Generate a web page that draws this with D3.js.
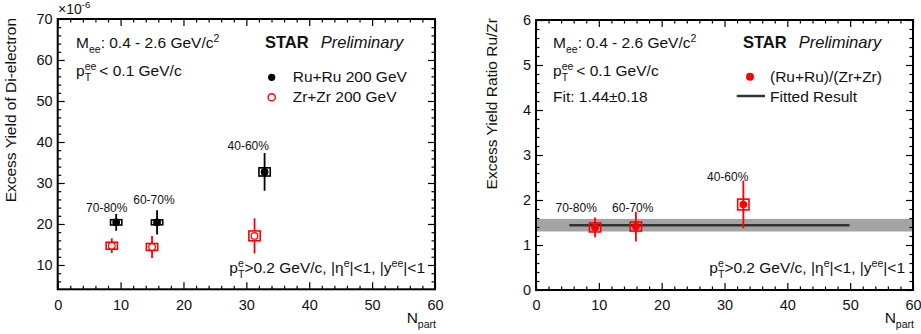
<!DOCTYPE html>
<html>
<head>
<meta charset="utf-8">
<script src="https://cdn.jsdelivr.net/npm/d3@7"></script>
<style>
body { margin: 0; background: #fff; }
text { font-family: "Liberation Sans", Arial, Helvetica, sans-serif; fill: #111; }
</style>
</head>
<body>
<script>

// ---- data ----
var centralities = ["70-80%", "60-70%", "40-60%"];

var npartRu = [9.3, 15.8, 32.9];
var yieldRu = [20.4, 20.4, 32.7];
var statRu  = [2.05, 2.95, 4.6];
var sysRu   = [0.65, 0.6, 1.0];

var npartZr = [8.6, 15.0, 31.3];
var yieldZr = [14.7, 14.4, 17.1];
var statZr  = [1.8, 2.7, 4.3];
var sysZr   = [0.85, 0.85, 1.2];

var npartRatio = [9.4, 15.9, 33.0];
var ratio      = [1.39, 1.41, 1.90];
var statRatio  = [0.22, 0.33, 0.53];
var sysRatio   = [0.10, 0.10, 0.12];

var fitValue = 1.44;
var fitBand  = [1.30, 1.58];
var fitRange = [5.3, 49.9];

// label anchors (Npart, y) for the centrality tags
var tagPosLeft  = [[7.8, 22.9], [15.3, 24.9], [30.3, 38.0]];
var tagPosRight = [[6.4, 1.74], [15.4, 1.74], [30.5, 2.43]];

var xMajor = [0, 10, 20, 30, 40, 50, 60];
var yMajorLeft = [10, 20, 30, 40, 50, 60, 70];
var yMajorRight = [0, 1, 2, 3, 4, 5, 6];

var svg = d3.select("body").append("svg")
    .attr("width", 921).attr("height", 334);

// text with sub / superscripts, laid out run by run
function rich(parent, x, y, runs, size, anchor) {
    var g = parent.append("g");
    var cx = 0;
    runs.forEach(function (r) {
        var w = 0;
        if (r.t !== undefined) {
            var t = g.append("text").attr("x", cx).attr("y", 0)
                .attr("font-size", size).text(r.t);
            if (r.bold) t.attr("font-weight", "bold");
            if (r.italic) t.attr("font-style", "italic");
            w = t.node().getComputedTextLength();
        }
        if (r.sup !== undefined) {
            var s = g.append("text").attr("x", cx).attr("y", -size * 0.42)
                .attr("font-size", size * 0.68).text(r.sup);
            w = Math.max(w, s.node().getComputedTextLength());
        }
        if (r.sub !== undefined) {
            var b = g.append("text").attr("x", cx).attr("y", size * 0.32)
                .attr("font-size", size * 0.68).text(r.sub);
            w = Math.max(w, b.node().getComputedTextLength());
        }
        cx += w + (r.gap || 0);
    });
    var dx = anchor === "end" ? -cx : 0;
    g.attr("transform", "translate(" + (x + dx) + "," + y + ")");
    return g;
}

function minorTicks(lo, hi, step, majors) {
    var out = [];
    for (var v = lo; v <= hi + 1e-9; v += step) {
        var r = Math.round(v * 1000) / 1000;
        if (majors.indexOf(r) < 0) out.push(r);
    }
    return out;
}

function frame(g, x, y, yMajor, yMinor, yFmt) {
    var x0 = x.range()[0], x1 = x.range()[1];
    var y0 = y.range()[0], y1 = y.range()[1];
    var xMinor = minorTicks(0, 60, 2, xMajor);

    g.append("g").attr("transform", "translate(0," + y0 + ")")
        .call(d3.axisBottom(x).tickValues(xMajor).tickSize(-7).tickPadding(10).tickFormat(d3.format("d")));
    g.append("g").attr("transform", "translate(0," + y0 + ")")
        .call(d3.axisBottom(x).tickValues(xMinor).tickSize(-3.5).tickFormat(""));
    g.append("g").attr("transform", "translate(0," + y1 + ")")
        .call(d3.axisTop(x).tickValues(xMajor).tickSize(-7).tickFormat(""));
    g.append("g").attr("transform", "translate(0," + y1 + ")")
        .call(d3.axisTop(x).tickValues(xMinor).tickSize(-3.5).tickFormat(""));

    g.append("g").attr("transform", "translate(" + x0 + ",0)")
        .call(d3.axisLeft(y).tickValues(yMajor).tickSize(-7).tickPadding(5).tickFormat(yFmt));
    g.append("g").attr("transform", "translate(" + x0 + ",0)")
        .call(d3.axisLeft(y).tickValues(yMinor).tickSize(-3.5).tickFormat(""));
    g.append("g").attr("transform", "translate(" + x1 + ",0)")
        .call(d3.axisRight(y).tickValues(yMajor).tickSize(-7).tickFormat(""));
    g.append("g").attr("transform", "translate(" + x1 + ",0)")
        .call(d3.axisRight(y).tickValues(yMinor).tickSize(-3.5).tickFormat(""));

    g.selectAll(".domain").remove();
    g.selectAll(".tick line").attr("stroke", "#000").attr("stroke-width", 1.2);
    g.selectAll(".tick text").attr("font-size", 14.5).attr("fill", "#111")
        .attr("font-family", "\"Liberation Sans\", Arial, sans-serif");

    g.append("rect")
        .attr("x", x0).attr("y", y1)
        .attr("width", x1 - x0).attr("height", y0 - y1)
        .attr("fill", "none").attr("stroke", "#000").attr("stroke-width", 2);
}

function series(g, x, y, xs, ys, stat, sys, color, markerFill, boxFill, r) {
    var d = xs.map(function (v, i) { return { x: v, y: ys[i], e: stat[i], s: sys[i] }; });
    g.selectAll(null).data(d).enter().append("line")
        .attr("x1", function (p) { return x(p.x); })
        .attr("x2", function (p) { return x(p.x); })
        .attr("y1", function (p) { return y(p.y - p.e); })
        .attr("y2", function (p) { return y(p.y + p.e); })
        .attr("stroke", color).attr("stroke-width", 1.8);
    g.selectAll(null).data(d).enter().append("rect")
        .attr("x", function (p) { return x(p.x - 0.9); })
        .attr("width", function (p) { return x(p.x + 0.9) - x(p.x - 0.9); })
        .attr("y", function (p) { return y(p.y + p.s); })
        .attr("height", function (p) { return y(p.y - p.s) - y(p.y + p.s); })
        .attr("fill", boxFill).attr("stroke", color).attr("stroke-width", 1.6);
    g.selectAll(null).data(d).enter().append("circle")
        .attr("cx", function (p) { return x(p.x); })
        .attr("cy", function (p) { return y(p.y); })
        .attr("r", r)
        .attr("fill", markerFill).attr("stroke", color).attr("stroke-width", 1.2);
}

function tags(g, x, y, pos) {
    g.selectAll(null).data(centralities).enter().append("text")
        .attr("x", function (d, i) { return x(pos[i][0]); })
        .attr("y", function (d, i) { return y(pos[i][1]); })
        .attr("text-anchor", "middle").attr("font-size", 12)
        .text(function (d) { return d; });
}

function commonText(g, xText, xStar, xBottom, xNpart) {
    rich(g, xText, 48, [{ t: "M" }, { sub: "ee" }, { t: ": 0.4 - 2.6 GeV/c" }, { sup: "2" }], 15.5);
    rich(g, xText, 76, [{ t: "p" }, { sup: "ee", sub: "T", gap: 3 }, { t: "< 0.1 GeV/c" }], 15.5);
    rich(g, xStar, 48, [{ t: "STAR", bold: true, gap: 12 }, { t: "Preliminary", italic: true }], 16.5);
    rich(g, xBottom, 273, [{ t: "p" }, { sup: "e", sub: "T" }, { t: ">0.2 GeV/c, |\u03b7" }, { sup: "e" },
        { t: "|<1, |y" }, { sup: "ee" }, { t: "|<1" }], 15.5, "end");
    rich(g, xNpart, 323, [{ t: "N" }, { sub: "part" }], 15.5, "end");
}

// ---------------- left panel ----------------
var left = svg.append("g");
var xL = d3.scaleLinear().domain([0, 60]).range([57.7, 435]);
var yL = d3.scaleLinear().domain([4.07, 70]).range([289.3, 19]);

frame(left, xL, yL, yMajorLeft, minorTicks(6, 70, 2, yMajorLeft), d3.format("d"));
series(left, xL, yL, npartRu, yieldRu, statRu, sysRu, "#000", "#000", "#fff", 3.3);
series(left, xL, yL, npartZr, yieldZr, statZr, sysZr, "#f00", "#fff", "#fff", 3.3);
tags(left, xL, yL, tagPosLeft);
commonText(left, 76, 265, 425, 436);

rich(left, 58, 14, [{ t: "\u00d710" }, { sup: "-6" }], 14);

left.append("text")
    .attr("transform", "translate(16,18) rotate(-90)")
    .attr("text-anchor", "end").attr("font-size", 15.5)
    .text("Excess Yield of Di-electron");

// legend
left.append("circle").attr("cx", 271.7).attr("cy", 77.3).attr("r", 3.6).attr("fill", "#000");
left.append("circle").attr("cx", 271.7).attr("cy", 97.3).attr("r", 3.6)
    .attr("fill", "#fff").attr("stroke", "#f00").attr("stroke-width", 1.4);
left.append("text").attr("x", 292.7).attr("y", 82).attr("font-size", 15.5).text("Ru+Ru 200 GeV");
left.append("text").attr("x", 292.7).attr("y", 102).attr("font-size", 15.5).text("Zr+Zr 200 GeV");

// ---------------- right panel ----------------
var right = svg.append("g");
var xR = d3.scaleLinear().domain([0, 60]).range([536, 913]);
var yR = d3.scaleLinear().domain([0, 6]).range([290, 20]);

right.append("rect")
    .attr("x", xR(0)).attr("width", xR(60) - xR(0))
    .attr("y", yR(fitBand[1])).attr("height", yR(fitBand[0]) - yR(fitBand[1]))
    .attr("fill", "#a4a4a4");
right.append("line")
    .attr("x1", xR(fitRange[0])).attr("x2", xR(fitRange[1]))
    .attr("y1", yR(fitValue)).attr("y2", yR(fitValue))
    .attr("stroke", "#333").attr("stroke-width", 2.5);

frame(right, xR, yR, yMajorRight, minorTicks(0, 6, 0.2, yMajorRight), d3.format("d"));
series(right, xR, yR, npartRatio, ratio, statRatio, sysRatio, "#f00", "#f00", "none", 3.2);
tags(right, xR, yR, tagPosRight);
commonText(right, 553, 743, 905, 914);

rich(right, 553, 102, [{ t: "Fit: 1.44\u00b10.18" }], 15.5);

right.append("text")
    .attr("transform", "translate(497,18) rotate(-90)")
    .attr("text-anchor", "end").attr("font-size", 15.5)
    .text("Excess Yield Ratio Ru/Zr");

right.append("circle").attr("cx", 750).attr("cy", 76.7).attr("r", 4).attr("fill", "#f00");
right.append("line").attr("x1", 736.7).attr("x2", 765).attr("y1", 96).attr("y2", 96)
    .attr("stroke", "#333").attr("stroke-width", 2.5);
right.append("text").attr("x", 770).attr("y", 82).attr("font-size", 15.5).text("(Ru+Ru)/(Zr+Zr)");
right.append("text").attr("x", 770).attr("y", 102).attr("font-size", 15.5).text("Fitted Result");

</script>
</body>
</html>
